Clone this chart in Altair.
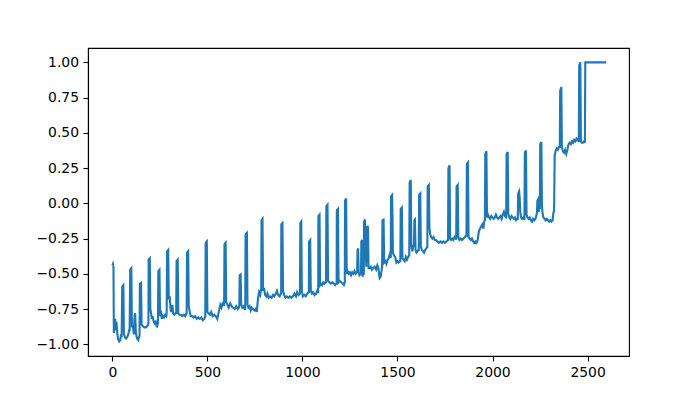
import altair as alt
import pandas as pd

# (x, y) vertices, per segment
seg_a = [(0,-0.44),(3,-0.43),(6,-0.45),(8,-0.92),(12,-0.88),(15,-0.82),(18,-0.90),(22,-0.84),(26,-0.92),
         (30,-0.96),(36,-0.98),(42,-0.97),(46,-0.93),(49,-0.95),(52,-0.59),(58,-0.58),(61,-0.93),
         (66,-0.95),(72,-0.96),(78,-0.95),(84,-0.93),(88,-0.90),(91,-0.90),(94,-0.47),(100,-0.46),(103,-0.88),
         (108,-0.86),(113,-0.93),(117,-0.80),(120,-0.78),(124,-0.92),(130,-0.96),(136,-0.97),(140,-0.95),
         (143,-0.94),(145,-0.57),(151,-0.565),(154,-0.86),(160,-0.87),(168,-0.88),(176,-0.88),(184,-0.87),(188,-0.86),
         (190,-0.85),(191,-0.40),(197,-0.39),(200,-0.75),(204,-0.78),(208,-0.82),(212,-0.80),(216,-0.83),(222,-0.85),
         (228,-0.84),(234,-0.88),(238,-0.86),(240,-0.85),(242,-0.48),(248,-0.47),(251,-0.80),(256,-0.76),(260,-0.82),
         (266,-0.80),(272,-0.81),(278,-0.79),(284,-0.80),(286,-0.78),(288,-0.34),(294,-0.33),(297,-0.68),(302,-0.66),
         (306,-0.75),(310,-0.77),(316,-0.72),(320,-0.78),(326,-0.79),(332,-0.78),(336,-0.78),(338,-0.41),(344,-0.40),
         (347,-0.78),(352,-0.79),(360,-0.79),(368,-0.80),(376,-0.79),(384,-0.80),(390,-0.78),(391,-0.78),(393,-0.35),
         (399,-0.34),(402,-0.73),(406,-0.76),(412,-0.80),(420,-0.80),(428,-0.81),(436,-0.80),(444,-0.82),(452,-0.81),
         (460,-0.82),(468,-0.81),(476,-0.83),(484,-0.82),(488,-0.80),(489,-0.80),(491,-0.28),(497,-0.27),(500,-0.77),
         (506,-0.78),(514,-0.79),(520,-0.77),(528,-0.80),(536,-0.79),(544,-0.80),(552,-0.82),(560,-0.77),(568,-0.72),
         (574,-0.74),(580,-0.71),(586,-0.72),(588,-0.72),(590,-0.29),(596,-0.28),(599,-0.70)]

seg_b = [(606,-0.72),(612,-0.74),(620,-0.71),(628,-0.73),(636,-0.74),(644,-0.75),(652,-0.73),(660,-0.75),(666,-0.74),
         (668,-0.72),(670,-0.51),(675,-0.505),(678,-0.72),(684,-0.74),(690,-0.73),(696,-0.75),(699,-0.75),(701,-0.22),
         (708,-0.21),(711,-0.72),(716,-0.74),(722,-0.73),(728,-0.76),(734,-0.74),(740,-0.75),(748,-0.76),(754,-0.75),
         (760,-0.77),(766,-0.68),(772,-0.63),(778,-0.65),(782,-0.61),(783,-0.62),(785,-0.12),(790,-0.11),(793,-0.62),
         (798,-0.60),(804,-0.65),(810,-0.66),(816,-0.64),(822,-0.67),(830,-0.66),(838,-0.67),(846,-0.65),(852,-0.66),
         (860,-0.64),(866,-0.62),(872,-0.65),(880,-0.66),(886,-0.64),(888,-0.64),(889,-0.15),(895,-0.14),(898,-0.62),
         (904,-0.65),(910,-0.67),(918,-0.66),(926,-0.67),(934,-0.66),(942,-0.67),(950,-0.66),(958,-0.64),(966,-0.66),
         (972,-0.63),(980,-0.65),(986,-0.64),(987,-0.64),(989,-0.14),(994,-0.13),(997,-0.62),(1002,-0.66),(1010,-0.65),
         (1018,-0.66),(1026,-0.64),(1032,-0.63),(1034,-0.63),(1035,-0.27),(1041,-0.26),(1044,-0.62),(1050,-0.64),
         (1056,-0.63),(1064,-0.65),(1072,-0.64),(1078,-0.62),(1082,-0.63),(1083,-0.63),(1084,-0.09),(1090,-0.08),
         (1093,-0.58),(1098,-0.57),(1104,-0.58),(1110,-0.56),(1116,-0.57),(1122,-0.56),(1124,-0.56),(1126,-0.02),
         (1132,-0.01),(1135,-0.55),(1142,-0.56),(1150,-0.57),(1158,-0.56),(1166,-0.57),(1172,-0.58),(1178,-0.57),
         (1180,-0.57),(1181,-0.05),(1187,-0.04),(1190,-0.56),(1196,-0.55),(1204,-0.56),(1212,-0.57),(1218,-0.58),
         (1222,-0.56),(1223,-0.56),(1224,0.02),(1230,0.035),(1233,-0.50),(1238,-0.48),(1244,-0.50),(1250,-0.49),
         (1256,-0.51),(1262,-0.49),(1268,-0.50),(1274,-0.48),(1280,-0.50),(1286,-0.49)]

seg_c = [(1288,-0.48),(1290,-0.33),(1293,-0.32),(1296,-0.49),(1300,-0.51),(1306,-0.50),(1308,-0.50),(1310,-0.27),
         (1313,-0.26),(1316,-0.52),(1320,-0.50),(1323,-0.50),(1324,-0.13),(1329,-0.115),(1332,-0.30),(1336,-0.45),
         (1339,-0.20),(1342,-0.16),(1345,-0.17),(1348,-0.46),(1354,-0.46),(1360,-0.45),(1366,-0.47),(1372,-0.46),
         (1380,-0.45),(1388,-0.47),(1394,-0.44),(1400,-0.46),(1406,-0.53),(1412,-0.52),(1418,-0.46),(1419,-0.46),
         (1421,-0.12),(1427,-0.115),(1430,-0.42),(1436,-0.41),(1442,-0.43),(1448,-0.40),(1454,-0.39),(1460,-0.36),
         (1464,-0.38),(1465,-0.38),(1466,0.05),(1472,0.06),(1474,-0.10),(1476,-0.35),(1482,-0.37),(1488,-0.38),
         (1494,-0.42),(1500,-0.41),(1506,-0.42),(1512,-0.41),(1515,-0.41),(1517,-0.04),(1523,-0.03),(1526,-0.39),
         (1532,-0.40),(1538,-0.41),(1544,-0.38),(1550,-0.40),(1556,-0.38),(1560,-0.37),(1562,-0.37),(1564,0.15),
         (1570,0.165),(1573,-0.30),(1578,-0.34),(1584,-0.30),(1587,-0.30),(1589,-0.12),(1592,-0.115),(1595,-0.33),
         (1600,-0.35),(1606,-0.34),(1610,-0.33),(1612,-0.33),(1614,0.06),(1620,0.07),(1623,-0.31),(1628,-0.33),
         (1634,-0.34),(1640,-0.35),(1646,-0.33),(1652,-0.32),(1656,-0.31),(1657,-0.31),(1659,0.12),(1665,0.13),
         (1668,-0.17),(1672,-0.22),(1678,-0.24),(1684,-0.25),(1690,-0.24),(1696,-0.26),(1702,-0.26),(1710,-0.27),
         (1718,-0.28),(1726,-0.27),(1734,-0.28),(1742,-0.27),(1750,-0.28),(1758,-0.27),(1764,-0.26)]

seg_d = [(1766,-0.26),(1768,0.25),(1774,0.27),(1777,-0.25),(1782,-0.26),(1788,-0.25),(1794,-0.26),(1800,-0.24),
         (1806,-0.25),(1809,-0.25),(1811,0.12),(1817,0.13),(1820,-0.24),(1826,-0.26),(1832,-0.25),(1840,-0.26),
         (1848,-0.25),(1854,-0.24),(1860,-0.23),(1863,-0.23),(1865,0.28),(1871,0.29),(1874,-0.24),(1880,-0.25),
         (1886,-0.26),(1892,-0.25),(1898,-0.27),(1904,-0.28),(1910,-0.27),(1916,-0.28),(1922,-0.26),(1928,-0.20),
         (1934,-0.18),(1940,-0.165),(1946,-0.15),(1952,-0.18),(1956,-0.13),(1959,-0.12),(1960,-0.12),(1962,0.35),
         (1968,0.37),(1971,-0.10),(1976,-0.08),(1982,-0.10),(1988,-0.11),(1994,-0.09),(2000,-0.10),(2006,-0.11),
         (2012,-0.10),(2018,-0.08),(2024,-0.10),(2030,-0.11),(2036,-0.10),(2042,-0.09),(2048,-0.11),(2054,-0.08),
         (2060,-0.06),(2066,-0.09),(2070,-0.10),(2072,-0.10),(2074,0.35),(2080,0.365),(2083,-0.07),(2088,-0.10),
         (2094,-0.11),(2100,-0.09),(2106,-0.10),(2112,-0.11),(2118,-0.10),(2124,-0.12),(2130,-0.11),(2133,-0.11),
         (2135,0.07),(2140,0.085),(2143,0.04),(2146,-0.06),(2150,-0.10),(2156,-0.11),(2162,-0.10),(2166,-0.11),
         (2168,-0.11),(2170,0.36),(2176,0.375),(2179,-0.08),(2184,-0.10),(2190,-0.11),(2196,-0.10),(2202,-0.12),
         (2208,-0.13),(2214,-0.11),(2220,-0.12),(2226,-0.11),(2232,-0.08),(2234,-0.06),(2236,0.02),(2240,0.03),
         (2243,-0.06),(2246,-0.02),(2249,-0.04),(2251,0.42),(2257,0.435),(2260,-0.01),(2263,-0.07),(2268,-0.10),
         (2274,-0.11),(2280,-0.12),(2286,-0.11),(2292,-0.12),(2298,-0.13),(2304,-0.12),(2310,-0.13),(2316,-0.12),
         (2320,-0.07),(2324,-0.05)]

seg_e = [(2327,0.34),(2332,0.37),(2338,0.39),(2344,0.38),(2350,0.40),(2354,0.40),(2356,0.80),(2362,0.825),
         (2365,0.40),(2370,0.37),(2376,0.36),(2382,0.38),(2388,0.35),(2394,0.38),(2400,0.42),(2406,0.43),
         (2412,0.42),(2418,0.44),(2424,0.43),(2430,0.45),(2436,0.44),(2442,0.46),(2448,0.45),(2452,0.44),
         (2454,0.44),(2456,0.98),(2462,1.0),(2465,0.44),(2470,0.43),(2476,0.43),(2482,0.44),(2486,0.43),
         (2488,1.0),(2598,1.0)]

x_ticks = [0, 500, 1000, 1500, 2000, 2500]
y_ticks = [-1.0, -0.75, -0.5, -0.25, 0.0, 0.25, 0.5, 0.75, 1.0]

points = seg_a + seg_b + seg_c + seg_d + seg_e
df = pd.DataFrame({"i": range(len(points)),
                   "x": [p[0] for p in points],
                   "y": [p[1] for p in points]})

font = "DejaVu Sans"
axis_common = dict(
    grid=False, domainColor="black", domainWidth=1.1, tickColor="black",
    tickWidth=1.1, tickSize=5, labelColor="black", labelFont=font,
    labelFontSize=13.9, labelPadding=4.5, title=None,
)

chart = alt.Chart(df).mark_line(color="#1f77b4", strokeWidth=2.1).encode(
    x=alt.X("x:Q", scale=alt.Scale(domain=[-128, 2718], nice=False, zero=False),
            axis=alt.Axis(values=x_ticks, format="d", **axis_common)),
    y=alt.Y("y:Q", scale=alt.Scale(domain=[-1.083, 1.102], nice=False, zero=False),
            axis=alt.Axis(values=y_ticks, format=".2f", **axis_common)),
    order="i:Q",
).properties(
    width=541, height=308,
    padding={"left": 80, "top": 40, "right": 60, "bottom": 40},
    autosize=alt.AutoSizeParams(type="none"),
).configure_view(
    stroke="black", strokeWidth=1.1
)

chart.save("out.html", embed_options={"renderer": "svg", "actions": False})
